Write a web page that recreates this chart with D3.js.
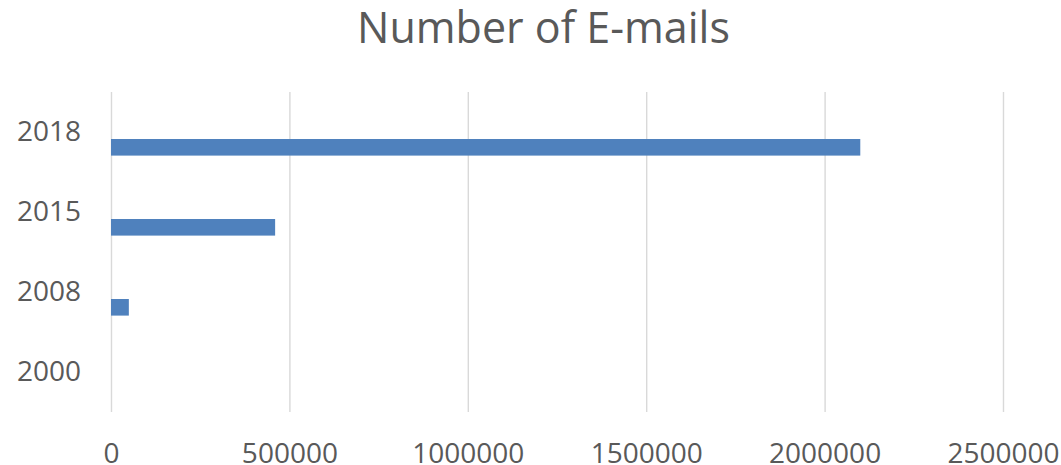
<!DOCTYPE html>
<html>
<head>
<meta charset="utf-8">
<script src="https://cdn.jsdelivr.net/npm/d3@7"></script>
<style>
    body { margin: 0; background: #fff; }
    text { font-family: "Open Sans", "Liberation Sans", sans-serif; fill: #595959; }
</style>
</head>
<body>
<div id="chart"></div>
<script>
// data
var years = ["2018", "2015", "2008", "2000"];
var emails = [2100000, 460000, 50000, 0];
var xTickValues = [0, 500000, 1000000, 1500000, 2000000, 2500000];
var title = "Number of E-mails";

var W = 1061, H = 465;
var margin = {top: 92, right: 58, bottom: 53, left: 111}
    , width = W - margin.left - margin.right
    , height = H - margin.top - margin.bottom;

var svg = d3.select("#chart")
    .append("svg")
    .attr("width", W)
    .attr("height", H);

svg.append("text")
    .attr("x", 543.5)
    .attr("y", 43)
    .attr("text-anchor", "middle")
    .style("font-size", "43px")
    .text(title);

var g = svg.append("g")
    .attr("transform", "translate(" + margin.left + "," + margin.top + ")");

var x = d3.scaleLinear()
    .domain([0, 2500000])
    .range([0, width]);

var y = d3.scaleBand()
    .domain(years)
    .range([0, height]);

// bars sit in the lower part of each band (empty second series slot above)
var slot = d3.scaleBand()
    .domain(["a", "b"])
    .range([y.bandwidth() * 0.38, y.bandwidth() * 0.795]);

var xAxis = d3.axisBottom(x)
    .tickValues(xTickValues)
    .tickSize(-height)
    .tickPadding(0)
    .tickFormat(d3.format("d"));

var ax = g.append("g")
    .attr("class", "axis axis--x")
    .attr("transform", "translate(0," + height + ")")
    .call(xAxis);

ax.select(".domain").remove();
ax.selectAll(".tick line")
    .attr("stroke", "#d9d9d9")
    .attr("stroke-width", 1.4);
ax.selectAll(".tick text")
    .attr("y", 51)
    .attr("dy", null)
    .style("font-size", "28px")
    .attr("fill", "#595959");

g.selectAll(".bar")
    .data(emails)
    .enter()
    .append("rect")
    .attr("class", "bar")
    .attr("x", x(0))
    .attr("y", (d, i) => y(years[i]) + slot("b"))
    .attr("width", d => x(d) - x(0))
    .attr("height", slot.bandwidth())
    .attr("fill", "#4f81bd");

g.selectAll(".ylabel")
    .data(years)
    .enter()
    .append("text")
    .attr("class", "ylabel")
    .attr("x", -30)
    .attr("y", d => y(d) + y.bandwidth() / 2 + 9)
    .attr("text-anchor", "end")
    .style("font-size", "28px")
    .text(d => d);
</script>
</body>
</html>
